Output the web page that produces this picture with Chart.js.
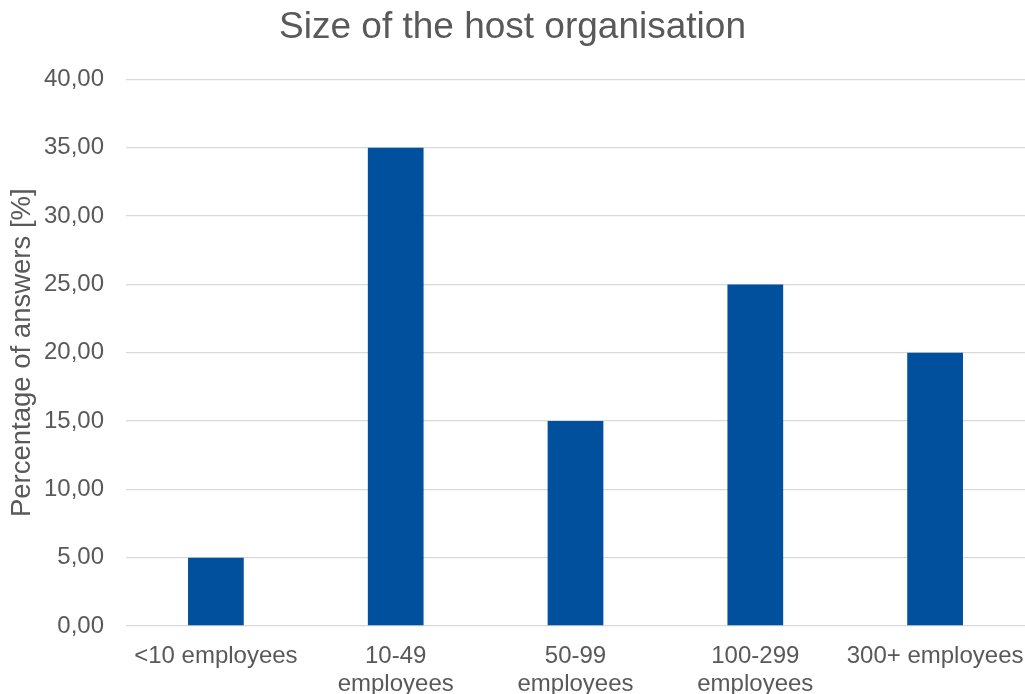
<!DOCTYPE html>
<html>
<head>
<meta charset="utf-8">
<script src="https://cdn.jsdelivr.net/npm/chart.js@4"></script>
<style>
  html, body { margin: 0; padding: 0; background: #fff; }
  #wrap { width: 1025px; height: 694px; }
</style>
</head>
<body>
<div id="wrap"><canvas id="sizeChart"></canvas></div>
<script>
// Host organisation size survey
const sizeLabels = [
  '<10 employees',
  ['10-49', 'employees'],
  ['50-99', 'employees'],
  ['100-299', 'employees'],
  '300+ employees'
];
const sizeShares = [5, 35, 15, 25, 20];

const yMin = 0;
const yMax = 40;
const yStep = 5;

const textColor = '#595959';
const fontFamily = '"Liberation Sans", Arial, sans-serif';

const ctx = document.getElementById('sizeChart').getContext('2d');

const chart = new Chart(ctx, {
  type: 'bar',
  data: {
    labels: sizeLabels,
    datasets: [
      {
        label: 'Percentage of answers',
        data: sizeShares,
        backgroundColor: '#00509E',
        borderWidth: 0,
        categoryPercentage: 1,
        barPercentage: 0.31
      }
    ]
  },
  options: {
    animation: false,
    responsive: true,
    maintainAspectRatio: false,
    layout: {
      padding: { left: 0, right: 0, top: 0, bottom: 0 }
    },
    plugins: {
      legend: { display: false },
      tooltip: { enabled: false },
      title: {
        display: true,
        text: 'Size of the host organisation',
        color: textColor,
        font: { family: fontFamily, size: 37, weight: 'normal', lineHeight: 1.2 },
        padding: { top: 6, bottom: 29 }
      }
    },
    scales: {
      x: {
        grid: { display: false, drawTicks: false },
        border: { display: false },
        ticks: {
          color: textColor,
          font: { family: fontFamily, size: 24, lineHeight: 1.15 },
          padding: 17,
          maxRotation: 0,
          autoSkip: false
        },
        afterFit: (scale) => {
          // let the plot run to the right edge; the last label still fits
          scale.height = 68;
          scale.paddingLeft = 0;
          scale.paddingRight = 0;
        }
      },
      y: {
        min: yMin,
        max: yMax,
        border: { display: false },
        grid: { color: '#d9d9d9', lineWidth: 1.3, drawTicks: false },
        ticks: {
          stepSize: yStep,
          color: textColor,
          padding: 22,
          font: { family: fontFamily, size: 24 },
          callback: (v) => v.toFixed(2).replace('.', ',')
        },
        title: {
          display: true,
          text: 'Percentage of answers [%]',
          color: textColor,
          font: { family: fontFamily, size: 27.5, lineHeight: 1.2 },
          padding: { top: 6, bottom: 0 }
        },
        afterFit: (scale) => { scale.width = 126; }
      }
    }
  }
});
</script>
</body>
</html>
